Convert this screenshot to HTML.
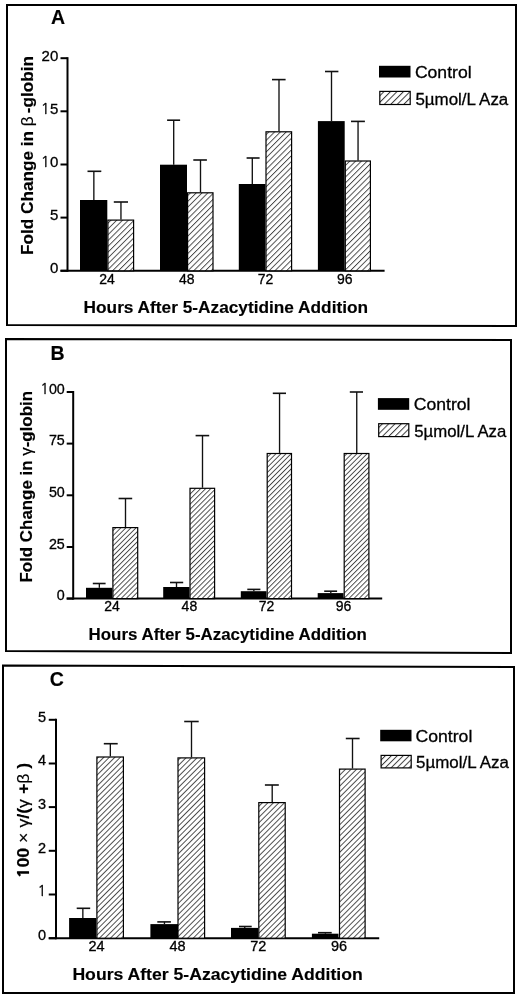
<!DOCTYPE html>
<html><head><meta charset="utf-8"><title>Figure</title>
<style>html,body{margin:0;padding:0;background:#fff;overflow:hidden;}svg{display:block;}</style>
</head><body>
<svg width="520" height="996" viewBox="0 0 520 996" font-family='"Liberation Sans", Arial, sans-serif' fill="#000">
<style>text{stroke:#000;stroke-width:0.3px;}text[font-weight=bold]{stroke-width:0.15px;}</style>
<defs><pattern id="hA" patternUnits="userSpaceOnUse" width="4.1" height="4.1" patternTransform="rotate(45)"><rect width="4.1" height="4.1" fill="#fff"/><line x1="0.5" y1="0" x2="0.5" y2="4.1" stroke="#333" stroke-width="0.85"/></pattern><pattern id="hB" patternUnits="userSpaceOnUse" width="3.58" height="3.58" patternTransform="rotate(45)"><rect width="3.58" height="3.58" fill="#fff"/><line x1="0.5" y1="0" x2="0.5" y2="3.58" stroke="#333" stroke-width="0.85"/></pattern><pattern id="hC" patternUnits="userSpaceOnUse" width="3.9" height="3.9" patternTransform="rotate(45)"><rect width="3.9" height="3.9" fill="#fff"/><line x1="0.5" y1="0" x2="0.5" y2="3.9" stroke="#333" stroke-width="0.85"/></pattern><pattern id="lA" patternUnits="userSpaceOnUse" width="4.6" height="4.6" patternTransform="rotate(45)"><rect width="4.6" height="4.6" fill="#fff"/><line x1="0.5" y1="0" x2="0.5" y2="4.6" stroke="#3a3a3a" stroke-width="1.0"/></pattern><pattern id="lB" patternUnits="userSpaceOnUse" width="4.45" height="4.45" patternTransform="rotate(45)"><rect width="4.45" height="4.45" fill="#fff"/><line x1="0.5" y1="0" x2="0.5" y2="4.45" stroke="#3a3a3a" stroke-width="1.0"/></pattern><pattern id="lC" patternUnits="userSpaceOnUse" width="4.2" height="4.2" patternTransform="rotate(45)"><rect width="4.2" height="4.2" fill="#fff"/><line x1="0.5" y1="0" x2="0.5" y2="4.2" stroke="#3a3a3a" stroke-width="1.0"/></pattern></defs>
<rect width="520" height="996" fill="#fff"/>
<polygon points="7,5 516,5 516,326 7,325" fill="none" stroke="#000" stroke-width="2" stroke-linejoin="miter"/>
<text x="51.00" y="23.80" font-size="19.5" font-weight="bold">A</text>
<line x1="67.50" y1="57.20" x2="67.50" y2="271.80" stroke="#000" stroke-width="2"/>
<line x1="60.50" y1="270.80" x2="384.60" y2="270.80" stroke="#000" stroke-width="2"/>
<line x1="60.50" y1="58.20" x2="67.50" y2="58.20" stroke="#000" stroke-width="2"/>
<text x="58.30" y="60.80" font-size="15" text-anchor="end">20</text>
<line x1="60.50" y1="111.30" x2="67.50" y2="111.30" stroke="#000" stroke-width="2"/>
<text x="58.30" y="113.90" font-size="15" text-anchor="end"><tspan font-family="NanumGothic, Liberation Sans, sans-serif">1</tspan>5</text>
<line x1="60.50" y1="164.50" x2="67.50" y2="164.50" stroke="#000" stroke-width="2"/>
<text x="58.30" y="167.10" font-size="15" text-anchor="end"><tspan font-family="NanumGothic, Liberation Sans, sans-serif">1</tspan>0</text>
<line x1="60.50" y1="217.60" x2="67.50" y2="217.60" stroke="#000" stroke-width="2"/>
<text x="58.30" y="220.20" font-size="15" text-anchor="end">5</text>
<line x1="60.50" y1="270.80" x2="67.50" y2="270.80" stroke="#000" stroke-width="2"/>
<text x="58.30" y="273.40" font-size="15" text-anchor="end">0</text>
<line x1="93.85" y1="171.30" x2="93.85" y2="200.00" stroke="#111" stroke-width="1.35"/>
<line x1="87.50" y1="171.30" x2="101.30" y2="171.30" stroke="#111" stroke-width="1.6"/>
<rect x="80.00" y="200.00" width="27.30" height="70.80" fill="#000"/>
<line x1="173.70" y1="120.20" x2="173.70" y2="164.70" stroke="#111" stroke-width="1.35"/>
<line x1="167.10" y1="120.20" x2="180.10" y2="120.20" stroke="#111" stroke-width="1.6"/>
<rect x="160.00" y="164.70" width="27.00" height="106.10" fill="#000"/>
<line x1="252.30" y1="158.00" x2="252.30" y2="184.00" stroke="#111" stroke-width="1.35"/>
<line x1="246.60" y1="158.00" x2="259.60" y2="158.00" stroke="#111" stroke-width="1.6"/>
<rect x="238.80" y="184.00" width="26.60" height="86.80" fill="#000"/>
<line x1="331.50" y1="71.50" x2="331.50" y2="121.10" stroke="#111" stroke-width="1.35"/>
<line x1="325.00" y1="71.50" x2="338.40" y2="71.50" stroke="#111" stroke-width="1.6"/>
<rect x="317.90" y="121.10" width="26.80" height="149.70" fill="#000"/>
<line x1="120.95" y1="202.00" x2="120.95" y2="219.50" stroke="#111" stroke-width="1.35"/>
<line x1="113.80" y1="202.00" x2="128.00" y2="202.00" stroke="#111" stroke-width="1.6"/>
<rect x="107.90" y="220.10" width="25.70" height="50.70" fill="url(#hA)" stroke="#000" stroke-width="1.2"/>
<line x1="200.50" y1="160.00" x2="200.50" y2="192.20" stroke="#111" stroke-width="1.35"/>
<line x1="193.30" y1="160.00" x2="206.90" y2="160.00" stroke="#111" stroke-width="1.6"/>
<rect x="187.60" y="192.80" width="25.40" height="78.00" fill="url(#hA)" stroke="#000" stroke-width="1.2"/>
<line x1="279.00" y1="79.60" x2="279.00" y2="131.20" stroke="#111" stroke-width="1.35"/>
<line x1="272.00" y1="79.60" x2="285.60" y2="79.60" stroke="#111" stroke-width="1.6"/>
<rect x="266.00" y="131.80" width="25.60" height="139.00" fill="url(#hA)" stroke="#000" stroke-width="1.2"/>
<line x1="358.05" y1="121.40" x2="358.05" y2="160.40" stroke="#111" stroke-width="1.35"/>
<line x1="351.00" y1="121.40" x2="364.90" y2="121.40" stroke="#111" stroke-width="1.6"/>
<rect x="345.30" y="161.00" width="25.10" height="109.80" fill="url(#hA)" stroke="#000" stroke-width="1.2"/>
<text x="107.00" y="283.50" font-size="14" text-anchor="middle">24</text>
<text x="186.80" y="283.50" font-size="14" text-anchor="middle">48</text>
<text x="265.60" y="283.50" font-size="14" text-anchor="middle">72</text>
<text x="344.70" y="283.50" font-size="14" text-anchor="middle">96</text>
<text x="83.60" y="313.30" font-size="17.3" font-weight="bold" textLength="284.5" lengthAdjust="spacingAndGlyphs">Hours After 5-Azacytidine Addition</text>
<text transform="translate(32.8 255.0) rotate(-90)" font-size="16.8" font-weight="bold" textLength="199.0" lengthAdjust="spacingAndGlyphs">Fold Change in <tspan font-weight="normal">β</tspan><tspan dx="3">-</tspan>globin</text>
<rect x="379.00" y="65.80" width="31.50" height="11.70" fill="#000"/>
<rect x="379.80" y="91.40" width="30.40" height="13.10" fill="url(#lA)" stroke="#000" stroke-width="1.2"/>
<text x="414.90" y="77.60" font-size="17.3" textLength="56.7" lengthAdjust="spacingAndGlyphs">Control</text>
<text x="415.40" y="104.60" font-size="17.3" textLength="92.9" lengthAdjust="spacingAndGlyphs">5µmol/L Aza</text>
<polygon points="6,339 511,340 511,653 6,651" fill="none" stroke="#000" stroke-width="2" stroke-linejoin="miter"/>
<text x="50.60" y="359.60" font-size="19.5" font-weight="bold">B</text>
<line x1="73.20" y1="391.00" x2="73.20" y2="599.60" stroke="#000" stroke-width="2"/>
<line x1="66.70" y1="598.60" x2="382.20" y2="598.60" stroke="#000" stroke-width="2"/>
<line x1="66.70" y1="392.00" x2="73.20" y2="392.00" stroke="#000" stroke-width="2"/>
<text x="64.80" y="393.70" font-size="14.3" text-anchor="end"><tspan font-family="NanumGothic, Liberation Sans, sans-serif">1</tspan>00</text>
<line x1="66.70" y1="443.60" x2="73.20" y2="443.60" stroke="#000" stroke-width="2"/>
<text x="64.80" y="445.30" font-size="14.3" text-anchor="end">75</text>
<line x1="66.70" y1="495.30" x2="73.20" y2="495.30" stroke="#000" stroke-width="2"/>
<text x="64.80" y="497.00" font-size="14.3" text-anchor="end">50</text>
<line x1="66.70" y1="547.00" x2="73.20" y2="547.00" stroke="#000" stroke-width="2"/>
<text x="64.80" y="548.70" font-size="14.3" text-anchor="end">25</text>
<line x1="66.70" y1="598.60" x2="73.20" y2="598.60" stroke="#000" stroke-width="2"/>
<text x="64.80" y="600.30" font-size="14.3" text-anchor="end">0</text>
<line x1="99.35" y1="583.50" x2="99.35" y2="587.80" stroke="#111" stroke-width="1.35"/>
<line x1="92.80" y1="583.50" x2="105.60" y2="583.50" stroke="#111" stroke-width="1.6"/>
<rect x="86.00" y="587.80" width="26.30" height="10.80" fill="#000"/>
<line x1="176.50" y1="582.50" x2="176.50" y2="587.00" stroke="#111" stroke-width="1.35"/>
<line x1="170.00" y1="582.50" x2="183.20" y2="582.50" stroke="#111" stroke-width="1.6"/>
<rect x="163.20" y="587.00" width="26.20" height="11.60" fill="#000"/>
<line x1="253.85" y1="589.40" x2="253.85" y2="591.20" stroke="#111" stroke-width="1.35"/>
<line x1="247.30" y1="589.40" x2="260.40" y2="589.40" stroke="#111" stroke-width="1.6"/>
<rect x="240.80" y="591.20" width="25.70" height="7.40" fill="#000"/>
<line x1="330.80" y1="591.20" x2="330.80" y2="593.10" stroke="#111" stroke-width="1.35"/>
<line x1="324.20" y1="591.20" x2="337.10" y2="591.20" stroke="#111" stroke-width="1.6"/>
<rect x="317.70" y="593.10" width="25.80" height="5.50" fill="#000"/>
<line x1="125.50" y1="498.50" x2="125.50" y2="527.00" stroke="#111" stroke-width="1.35"/>
<line x1="118.60" y1="498.50" x2="132.20" y2="498.50" stroke="#111" stroke-width="1.6"/>
<rect x="112.90" y="527.60" width="24.80" height="71.00" fill="url(#hB)" stroke="#000" stroke-width="1.2"/>
<line x1="202.50" y1="435.60" x2="202.50" y2="487.70" stroke="#111" stroke-width="1.35"/>
<line x1="195.60" y1="435.60" x2="209.20" y2="435.60" stroke="#111" stroke-width="1.6"/>
<rect x="190.00" y="488.30" width="24.60" height="110.30" fill="url(#hB)" stroke="#000" stroke-width="1.2"/>
<line x1="279.55" y1="393.30" x2="279.55" y2="452.90" stroke="#111" stroke-width="1.35"/>
<line x1="272.80" y1="393.30" x2="286.00" y2="393.30" stroke="#111" stroke-width="1.6"/>
<rect x="267.20" y="453.50" width="24.30" height="145.10" fill="url(#hB)" stroke="#000" stroke-width="1.2"/>
<line x1="356.75" y1="392.00" x2="356.75" y2="452.90" stroke="#111" stroke-width="1.35"/>
<line x1="349.80" y1="392.00" x2="363.00" y2="392.00" stroke="#111" stroke-width="1.6"/>
<rect x="344.20" y="453.50" width="24.70" height="145.10" fill="url(#hB)" stroke="#000" stroke-width="1.2"/>
<text x="112.00" y="610.80" font-size="14" text-anchor="middle">24</text>
<text x="189.40" y="610.80" font-size="14" text-anchor="middle">48</text>
<text x="266.60" y="610.80" font-size="14" text-anchor="middle">72</text>
<text x="343.60" y="610.80" font-size="14" text-anchor="middle">96</text>
<text x="88.60" y="640.20" font-size="17" font-weight="bold" textLength="278.3" lengthAdjust="spacingAndGlyphs">Hours After 5-Azacytidine Addition</text>
<text transform="translate(31.7 582.5) rotate(-90)" font-size="16.8" font-weight="bold" textLength="191.5" lengthAdjust="spacingAndGlyphs">Fold Change in <tspan font-weight="normal">γ</tspan>-globin</text>
<rect x="377.90" y="398.10" width="31.30" height="11.70" fill="#000"/>
<rect x="378.70" y="423.70" width="30.10" height="12.90" fill="url(#lB)" stroke="#000" stroke-width="1.2"/>
<text x="413.80" y="410.30" font-size="17" textLength="56.7" lengthAdjust="spacingAndGlyphs">Control</text>
<text x="414.30" y="437.40" font-size="17" textLength="92" lengthAdjust="spacingAndGlyphs">5µmol/L Aza</text>
<polygon points="3,665.5 514,667 514,993 3,993" fill="none" stroke="#000" stroke-width="2" stroke-linejoin="miter"/>
<text x="49.80" y="685.70" font-size="19.5" font-weight="bold">C</text>
<line x1="56.00" y1="718.80" x2="56.00" y2="939.20" stroke="#000" stroke-width="2"/>
<line x1="48.75" y1="938.20" x2="379.20" y2="938.20" stroke="#000" stroke-width="2"/>
<line x1="48.75" y1="719.80" x2="56.00" y2="719.80" stroke="#000" stroke-width="2"/>
<text x="46.20" y="721.60" font-size="14.5" text-anchor="end">5</text>
<line x1="48.75" y1="763.50" x2="56.00" y2="763.50" stroke="#000" stroke-width="2"/>
<text x="46.20" y="765.30" font-size="14.5" text-anchor="end">4</text>
<line x1="48.75" y1="807.10" x2="56.00" y2="807.10" stroke="#000" stroke-width="2"/>
<text x="46.20" y="808.90" font-size="14.5" text-anchor="end">3</text>
<line x1="48.75" y1="850.80" x2="56.00" y2="850.80" stroke="#000" stroke-width="2"/>
<text x="46.20" y="852.60" font-size="14.5" text-anchor="end">2</text>
<line x1="48.75" y1="894.50" x2="56.00" y2="894.50" stroke="#000" stroke-width="2"/>
<text x="46.20" y="896.30" font-size="14.5" text-anchor="end"><tspan font-family="NanumGothic, Liberation Sans, sans-serif">1</tspan></text>
<line x1="48.75" y1="938.20" x2="56.00" y2="938.20" stroke="#000" stroke-width="2"/>
<text x="46.20" y="940.00" font-size="14.5" text-anchor="end">0</text>
<line x1="82.85" y1="908.30" x2="82.85" y2="918.00" stroke="#111" stroke-width="1.35"/>
<line x1="76.70" y1="908.30" x2="90.20" y2="908.30" stroke="#111" stroke-width="1.6"/>
<rect x="69.10" y="918.00" width="27.10" height="20.20" fill="#000"/>
<line x1="164.45" y1="921.90" x2="164.45" y2="924.10" stroke="#111" stroke-width="1.35"/>
<line x1="157.30" y1="921.90" x2="170.90" y2="921.90" stroke="#111" stroke-width="1.6"/>
<rect x="150.40" y="924.10" width="27.70" height="14.10" fill="#000"/>
<line x1="244.75" y1="926.50" x2="244.75" y2="927.90" stroke="#111" stroke-width="1.35"/>
<line x1="239.00" y1="926.50" x2="251.70" y2="926.50" stroke="#111" stroke-width="1.6"/>
<rect x="231.00" y="927.90" width="27.10" height="10.30" fill="#000"/>
<line x1="325.40" y1="932.70" x2="325.40" y2="933.70" stroke="#111" stroke-width="1.35"/>
<line x1="318.00" y1="932.70" x2="331.70" y2="932.70" stroke="#111" stroke-width="1.6"/>
<rect x="311.90" y="933.70" width="26.60" height="4.50" fill="#000"/>
<line x1="110.35" y1="743.70" x2="110.35" y2="756.40" stroke="#111" stroke-width="1.35"/>
<line x1="103.80" y1="743.70" x2="117.70" y2="743.70" stroke="#111" stroke-width="1.6"/>
<rect x="96.90" y="757.00" width="26.50" height="181.20" fill="url(#hC)" stroke="#000" stroke-width="1.2"/>
<line x1="191.50" y1="721.50" x2="191.50" y2="757.30" stroke="#111" stroke-width="1.35"/>
<line x1="184.20" y1="721.50" x2="198.70" y2="721.50" stroke="#111" stroke-width="1.6"/>
<rect x="178.00" y="757.90" width="26.60" height="180.30" fill="url(#hC)" stroke="#000" stroke-width="1.2"/>
<line x1="272.20" y1="785.00" x2="272.20" y2="802.00" stroke="#111" stroke-width="1.35"/>
<line x1="264.90" y1="785.00" x2="278.80" y2="785.00" stroke="#111" stroke-width="1.6"/>
<rect x="258.80" y="802.60" width="26.40" height="135.60" fill="url(#hC)" stroke="#000" stroke-width="1.2"/>
<line x1="352.50" y1="738.50" x2="352.50" y2="768.50" stroke="#111" stroke-width="1.35"/>
<line x1="345.80" y1="738.50" x2="359.60" y2="738.50" stroke="#111" stroke-width="1.6"/>
<rect x="339.50" y="769.10" width="25.60" height="169.10" fill="url(#hC)" stroke="#000" stroke-width="1.2"/>
<text x="96.50" y="951.30" font-size="14.5" text-anchor="middle">24</text>
<text x="177.50" y="951.30" font-size="14.5" text-anchor="middle">48</text>
<text x="258.20" y="951.30" font-size="14.5" text-anchor="middle">72</text>
<text x="339.00" y="951.30" font-size="14.5" text-anchor="middle">96</text>
<text x="72.40" y="980.30" font-size="17.3" font-weight="bold" textLength="290.4" lengthAdjust="spacingAndGlyphs">Hours After 5-Azacytidine Addition</text>
<text transform="translate(28.7 878.3) rotate(-90)" font-size="15.8" font-weight="bold" textLength="115.6" lengthAdjust="spacingAndGlyphs"><tspan font-family="NanumGothic, Liberation Sans, sans-serif" font-weight="800">1</tspan>00 <tspan font-weight="normal">×</tspan> <tspan font-weight="normal">γ</tspan>/(<tspan font-weight="normal">γ</tspan> +<tspan font-weight="normal">β</tspan> )</text>
<rect x="380.20" y="729.80" width="31.30" height="11.50" fill="#000"/>
<rect x="381.10" y="755.40" width="30.10" height="12.50" fill="url(#lC)" stroke="#000" stroke-width="1.2"/>
<text x="415.50" y="742.00" font-size="17.3" textLength="56.8" lengthAdjust="spacingAndGlyphs">Control</text>
<text x="416.00" y="768.20" font-size="17.3" textLength="92.9" lengthAdjust="spacingAndGlyphs">5µmol/L Aza</text>
</svg>
</body></html>
